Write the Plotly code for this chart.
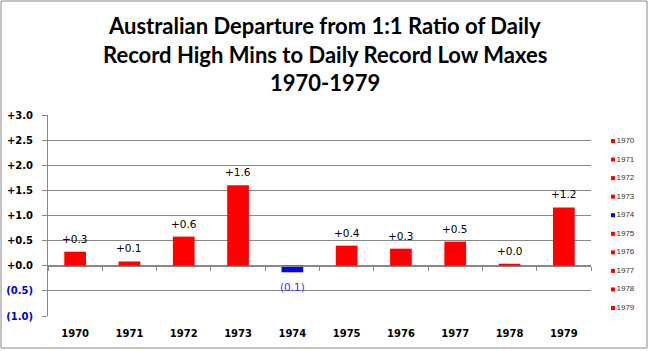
import plotly.graph_objects as go

years = ["1970", "1971", "1972", "1973", "1974", "1975", "1976", "1977", "1978", "1979"]
values = [0.28, 0.085, 0.58, 1.60, -0.13, 0.40, 0.34, 0.48, 0.04, 1.16]
colors = ["#ff0000", "#ff0000", "#ff0000", "#ff0000", "#0000ff",
          "#ff0000", "#ff0000", "#ff0000", "#ff0000", "#ff0000"]
tick_vals = [-1.0, -0.5, 0.0, 0.5, 1.0, 1.5, 2.0, 2.5, 3.0]
tick_text = ["(1.0)", "(0.5)", "+0.0", "+0.5", "+1.0", "+1.5", "+2.0", "+2.5", "+3.0"]
title_lines = ["Australian Departure from 1:1 Ratio of Daily",
               "Record High Mins to Daily Record Low Maxes",
               "1970-1979"]

W, H = 649, 351
# plot-area pixel box
PL, PR, PT, PB = 48, 591, 115, 316


def fmt(v):
    return "+%.1f" % v if v >= 0 else "(%.1f)" % abs(v)


def fmt_tick(t, v):
    col = "#0000cc" if v < 0 else "#000000"
    return "<b><span style='color:%s'>%s</span></b>" % (col, t)


fig = go.Figure()
fig.add_trace(go.Bar(
    x=years, y=values,
    marker=dict(color=colors, line=dict(width=0)),
    width=0.4,
    showlegend=False,
    hoverinfo="skip",
))

# invisible trace on the zero-crossing axis so it knows the categories
fig.add_trace(go.Scatter(
    x=years, y=[None] * len(years), mode="markers",
    xaxis="x2", yaxis="y", showlegend=False, hoverinfo="skip",
))

# legend drawn as a small scatter (one marker + label per category)
fig.add_trace(go.Scatter(
    x=[0] * len(years), y=list(range(len(years))),
    mode="markers+text",
    marker=dict(symbol="square", size=4, color=colors),
    text=years, textposition="middle right",
    textfont=dict(family="Liberation Sans", size=8, color="#333333"),
    xaxis="x3", yaxis="y3", showlegend=False, hoverinfo="skip",
    cliponaxis=False,
))

annotations = []
# data labels (category index positions)
for i, v in enumerate(values):
    annotations.append(dict(
        x=i, y=v, xref="x", yref="y", text=fmt(v), showarrow=False,
        xanchor="center", yanchor="middle",
        yshift=13 if v >= 0 else -15,
        font=dict(family="DejaVu Sans", size=10.5,
                  color="#000000" if v >= 0 else "#3333ff"),
    ))
# title lines
for line, py in zip(title_lines, [25, 54, 82]):
    annotations.append(dict(
        x=0.5, y=1 - py / H, xref="paper", yref="paper",
        xanchor="center", yanchor="middle", showarrow=False,
        text="<b>%s</b>" % line,
        font=dict(family="Lato", size=22, color="#000000"),
    ))

ydom = [(H - PB) / H, (H - PT) / H]
fig.update_layout(
    width=W, height=H,
    margin=dict(l=0, r=0, t=0, b=0),
    paper_bgcolor="white", plot_bgcolor="white",
    xaxis=dict(
        domain=[PL / W, PR / W], automargin=False,
        type="category", categoryorder="array", categoryarray=years,
        range=[-0.5, 9.5],
        showline=False, ticks="", showgrid=False, zeroline=False,
        tickvals=years, ticktext=["<b>%s</b>" % y for y in years],
        tickfont=dict(family="DejaVu Sans", size=10, color="#000000"),
        ticklabelstandoff=10,
    ),
    xaxis2=dict(
        domain=[PL / W, PR / W], automargin=False,
        type="category", categoryorder="array", categoryarray=years,
        range=[-0.5, 9.5], overlaying="x", anchor="free",
        position=ydom[0] + 0.25 * (ydom[1] - ydom[0]),
        side="bottom",
        showline=True, linecolor="#888888", linewidth=1,
        ticks="outside", ticklen=4, tickcolor="#888888", tickson="boundaries",
        showticklabels=False, showgrid=False, zeroline=False,
    ),
    yaxis=dict(
        domain=ydom, automargin=False,
        range=[-1.0, 3.0],
        tickvals=tick_vals,
        ticktext=[fmt_tick(t, v) for t, v in zip(tick_text, tick_vals)],
        tickfont=dict(family="DejaVu Sans", size=10, color="#000000"),
        showgrid=True, gridcolor="#888888", gridwidth=1,
        zeroline=False,
        showline=True, linecolor="#888888", linewidth=1,
        ticks="outside", ticklen=5, tickcolor="#888888",
        ticklabelstandoff=7,
    ),
    xaxis3=dict(
        domain=[613 / W, 1.0], range=[0, 1], automargin=False,
        visible=False, fixedrange=True,
    ),
    yaxis3=dict(
        domain=ydom, range=[9.43, -1.40], automargin=False,
        visible=False, fixedrange=True, anchor="x3",
    ),
    showlegend=False,
    annotations=annotations,
    shapes=[dict(
        type="rect", xref="paper", yref="paper",
        x0=1 / W, x1=647 / W, y0=1 - 348 / H, y1=1 - 1 / H,
        line=dict(color="#888888", width=1), fillcolor="rgba(0,0,0,0)",
    )],
)

fig.write_html("out.html")
